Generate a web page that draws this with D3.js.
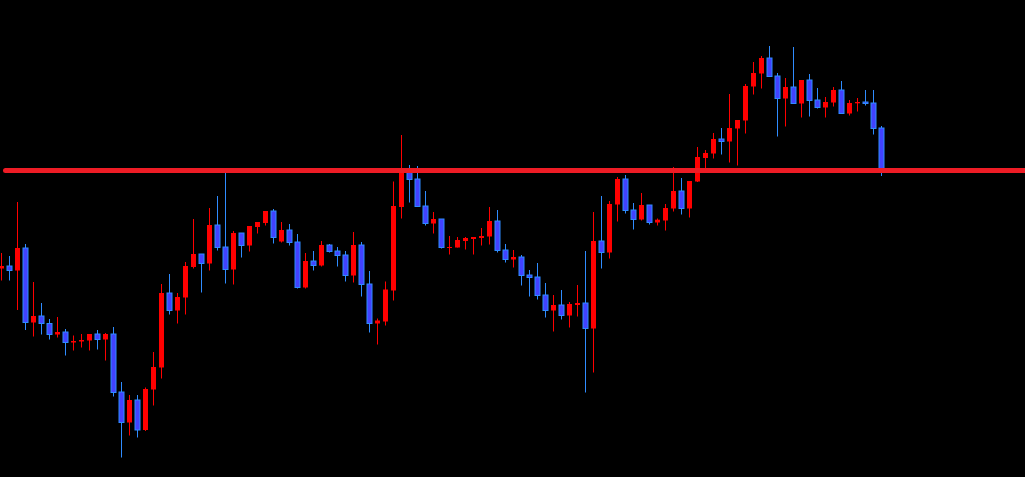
<!DOCTYPE html>
<html>
<head>
<meta charset="utf-8">
<script src="https://cdn.jsdelivr.net/npm/d3@7"></script>
<style>
  html, body { margin: 0; padding: 0; background: #000; overflow: hidden; }
  svg { display: block; }
</style>
</head>
<body>
<svg id="chart" width="1025" height="477"></svg>
<script>
// ---- data (prices) ----
const opens = [107.315,107.34,107.295,107.52,106.775,106.84,106.765,106.655,106.68,106.575,106.585,106.595,106.66,106.605,106.66,106.08,105.775,106.00,105.70,106.105,106.325,107.07,106.895,107.025,107.33,107.46,107.365,107.75,107.53,107.305,107.67,107.545,107.73,107.77,107.89,107.585,107.70,107.58,107.125,107.39,107.345,107.55,107.49,107.45,107.245,107.55,107.16,106.765,106.785,107.095,107.93,108.29,108.21,107.94,107.765,107.81,107.52,107.525,107.59,107.61,107.62,107.635,107.79,107.50,107.405,107.43,107.25,107.23,107.05,106.895,106.95,106.845,106.95,106.97,106.715,107.59,107.475,107.955,108.21,107.90,107.805,107.95,107.775,107.795,107.915,108.09,107.915,108.185,108.42,108.465,108.61,108.585,108.715,108.795,109.135,109.265,109.42,109.24,109.015,109.13,108.965,109.20,109.00,108.925,108.975,109.10,108.865,108.967,108.98,108.97,108.72];
const highs = [107.47,107.44,107.98,107.56,107.18,106.97,106.81,106.83,106.71,106.645,106.66,106.66,106.70,106.67,106.73,106.18,106.05,106.05,106.125,106.48,107.16,107.26,107.07,107.38,107.81,107.46,107.92,108.04,108.27,107.69,107.67,107.74,107.78,107.89,107.91,107.78,107.76,107.66,107.47,107.49,107.59,107.56,107.53,107.49,107.68,107.58,107.29,106.815,107.185,108.185,108.65,108.35,108.34,108.09,107.88,107.81,107.64,107.63,107.63,107.63,107.72,107.93,107.90,107.56,107.50,107.45,107.30,107.37,107.17,107.05,107.10,106.98,107.15,107.49,107.88,108.04,107.99,108.23,108.25,107.97,108.07,107.95,107.815,107.96,108.33,108.22,108.19,108.53,108.50,108.67,108.72,109.06,108.80,109.16,109.38,109.44,109.54,109.27,109.22,109.53,109.20,109.26,109.12,109.03,109.13,109.19,109.00,109.02,109.10,109.10,108.74];
const lows = [107.195,107.195,106.90,106.70,106.635,106.655,106.605,106.625,106.445,106.495,106.525,106.495,106.505,106.395,106.035,105.425,105.645,105.625,105.69,105.945,106.215,106.855,106.765,106.855,107.315,107.075,107.295,107.495,107.165,107.155,107.425,107.485,107.665,107.745,107.565,107.575,107.545,107.115,107.115,107.295,107.335,107.475,107.335,107.185,107.175,107.035,106.675,106.555,106.745,106.995,107.815,107.975,107.93,107.745,107.665,107.515,107.455,107.525,107.505,107.455,107.545,107.555,107.475,107.375,107.325,107.145,107.035,107.005,106.825,106.685,106.805,106.725,106.835,106.075,106.275,107.315,107.415,107.785,107.865,107.705,107.795,107.755,107.745,107.695,107.885,107.855,107.825,108.18,108.32,108.415,108.455,108.375,108.345,108.665,109.055,109.115,109.235,108.635,108.735,108.965,108.825,108.835,108.915,108.825,108.935,108.865,108.845,108.885,108.945,108.655,108.24];
const closes = [107.34,107.295,107.52,106.775,106.84,106.765,106.655,106.68,106.575,106.59,106.60,106.66,106.605,106.66,106.075,105.775,106.00,105.70,106.11,106.33,107.07,106.895,107.03,107.34,107.46,107.365,107.75,107.525,107.305,107.67,107.545,107.74,107.78,107.89,107.625,107.70,107.575,107.125,107.39,107.345,107.55,107.485,107.445,107.245,107.55,107.155,106.765,106.795,107.105,107.94,108.29,108.205,107.935,107.765,107.81,107.525,107.53,107.60,107.62,107.63,107.64,107.79,107.495,107.405,107.43,107.245,107.225,107.045,106.895,106.95,106.845,106.96,106.97,106.715,107.59,107.475,107.96,108.21,107.895,107.805,107.95,107.775,107.803,107.92,108.09,107.915,108.19,108.43,108.47,108.61,108.585,108.72,108.80,109.14,109.27,109.42,109.235,109.015,109.13,108.965,109.20,108.995,108.925,108.98,109.10,108.865,108.97,108.98,108.965,108.715,108.30];
const levelPrice = [108.295];

// ---- scales ----
const W = 1025, H = 477;
const idx = d3.range(opens.length);
const x = d3.scalePoint().domain(idx).range([1.5, 881.5]);
const y = d3.scaleLinear().domain([105.23, 110.00]).range([H, 0]);

const svg = d3.select("#chart");
svg.append("rect").attr("width", W).attr("height", H).attr("fill", "#000");

const RED = "#ff0000", BLUE_FILL = "#4242ff", BLUE_EDGE = "#2f8cff";
const bodyW = 5;

const g = svg.append("g");
const candles = g.selectAll("g.c").data(idx).join("g").attr("class", "c");

// wicks
candles.append("line")
  .attr("x1", i => Math.floor(x(i)) + 0.5)
  .attr("x2", i => Math.floor(x(i)) + 0.5)
  .attr("y1", i => y(highs[i]))
  .attr("y2", i => y(lows[i]))
  .attr("stroke", i => closes[i] >= opens[i] ? RED : BLUE_EDGE)
  .attr("stroke-width", 1);

// bodies
candles.append("rect")
  .attr("x", i => Math.floor(x(i)) - 2)
  .attr("width", bodyW)
  .attr("y", i => y(Math.max(opens[i], closes[i])))
  .attr("height", i => Math.max(1, y(Math.min(opens[i], closes[i])) - y(Math.max(opens[i], closes[i]))))
  .attr("fill", i => closes[i] >= opens[i] ? RED : BLUE_FILL)
  .attr("stroke", i => closes[i] >= opens[i] ? "none" : BLUE_EDGE)
  .attr("stroke-width", 1);

// horizontal level line
svg.selectAll("line.level").data(levelPrice).join("line")
  .attr("class", "level")
  .attr("x1", 5.5).attr("x2", W + 10)
  .attr("y1", d => y(d)).attr("y2", d => y(d))
  .attr("stroke", "#ee1c25")
  .attr("stroke-width", 5)
  .attr("stroke-linecap", "round");
</script>
</body>
</html>
